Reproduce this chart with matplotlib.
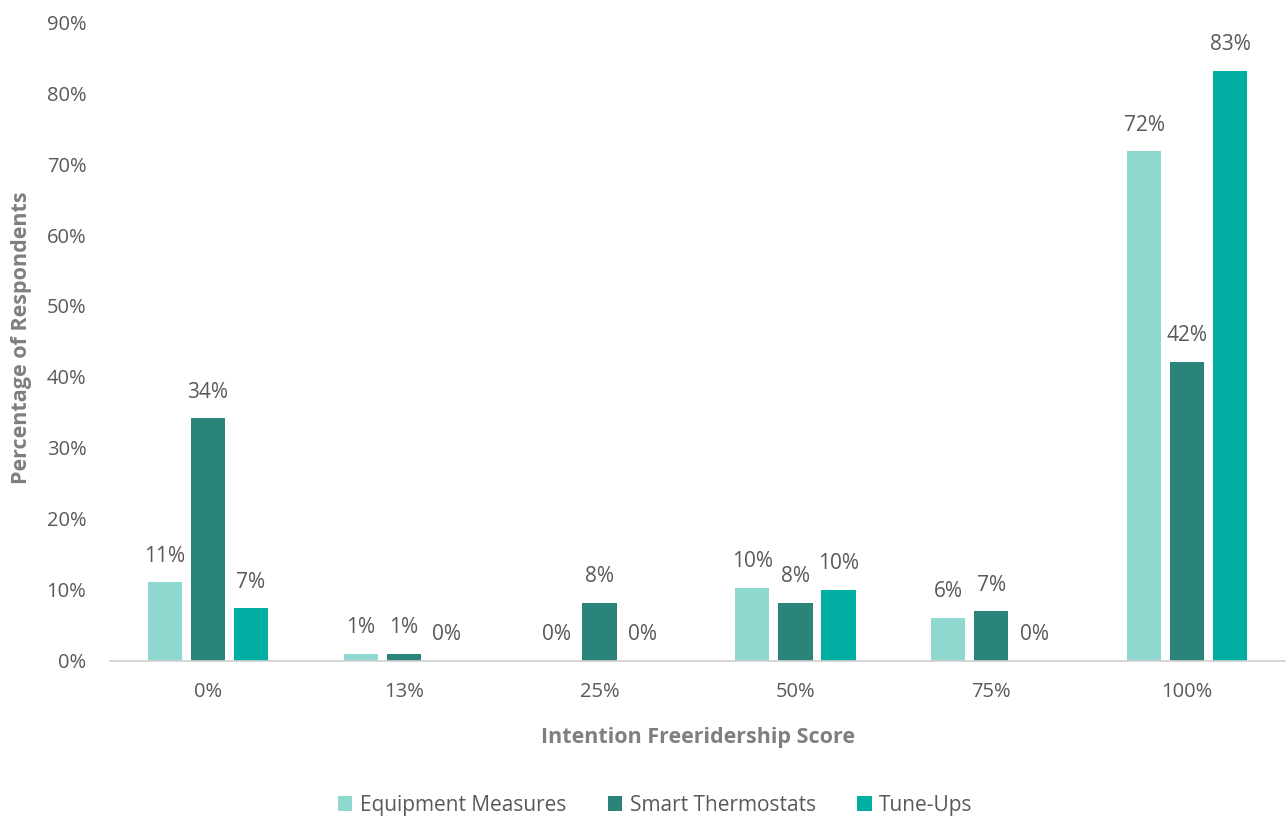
import matplotlib.pyplot as plt
import numpy as np

plt.rcParams['font.family'] = ['Open Sans', 'DejaVu Sans']

# intention freeridership score buckets
categories = ['0%', '13%', '25%', '50%', '75%', '100%']

# percentage of respondents per program
equipment = [11.1, 1.0, 0.0, 10.3, 6.1, 71.8]
thermostats = [34.2, 1.0, 8.2, 8.2, 7.0, 42.1]
tuneups = [7.4, 0.0, 0.0, 10.0, 0.0, 83.1]

series = [
    ('Equipment Measures', equipment, '#8ED8CF'),
    ('Smart Thermostats', thermostats, '#2B847A'),
    ('Tune-Ups', tuneups, '#00AFA1'),
]

fig = plt.figure(figsize=(12.88, 8.16), dpi=100)
ax = fig.add_axes([0.0854, 0.19, 0.9123, 0.783])

x = np.arange(len(categories))
width = 0.175
step = 0.22
txt = '#595959'

for i, (name, vals, color) in enumerate(series):
    pos = x + (i - 1) * step
    ax.bar(pos, vals, width, color=color, label=name, zorder=2)
    for px, v in zip(pos, vals):
        ax.text(px, v + 2.2, '%d%%' % round(v), ha='center', va='bottom',
                fontsize=15, color=txt)

ax.set_xlim(-0.5, len(categories) - 0.5)
ax.set_ylim(0, 90)
ax.set_yticks(np.arange(0, 91, 10))
ax.set_yticklabels(['%d%%' % t for t in range(0, 91, 10)])
ax.set_xticks(x)
ax.set_xticklabels(categories)
ax.tick_params(axis='both', length=0, labelsize=14.5, labelcolor=txt)
ax.tick_params(axis='x', pad=15)
ax.tick_params(axis='y', pad=17)

for s in ['top', 'right', 'left']:
    ax.spines[s].set_visible(False)
ax.spines['bottom'].set_color('#D0D0D0')
ax.spines['bottom'].set_linewidth(1.2)

ax.set_xlabel('Intention Freeridership Score', fontsize=15.5, fontweight='bold',
              color='#7F7F7F', labelpad=18)
fig.text(0.017, 0.586, 'Percentage of Respondents', rotation=90,
         fontsize=15.5, fontweight='bold', color='#7F7F7F', ha='center', va='center')

ax.legend(loc='center', bbox_to_anchor=(0.464, -0.226), ncol=3, frameon=False,
          fontsize=15, handlelength=0.7, handleheight=0.7, handletextpad=0.35,
          columnspacing=2.0, labelcolor=txt)

fig.savefig('out.png', dpi=100)
